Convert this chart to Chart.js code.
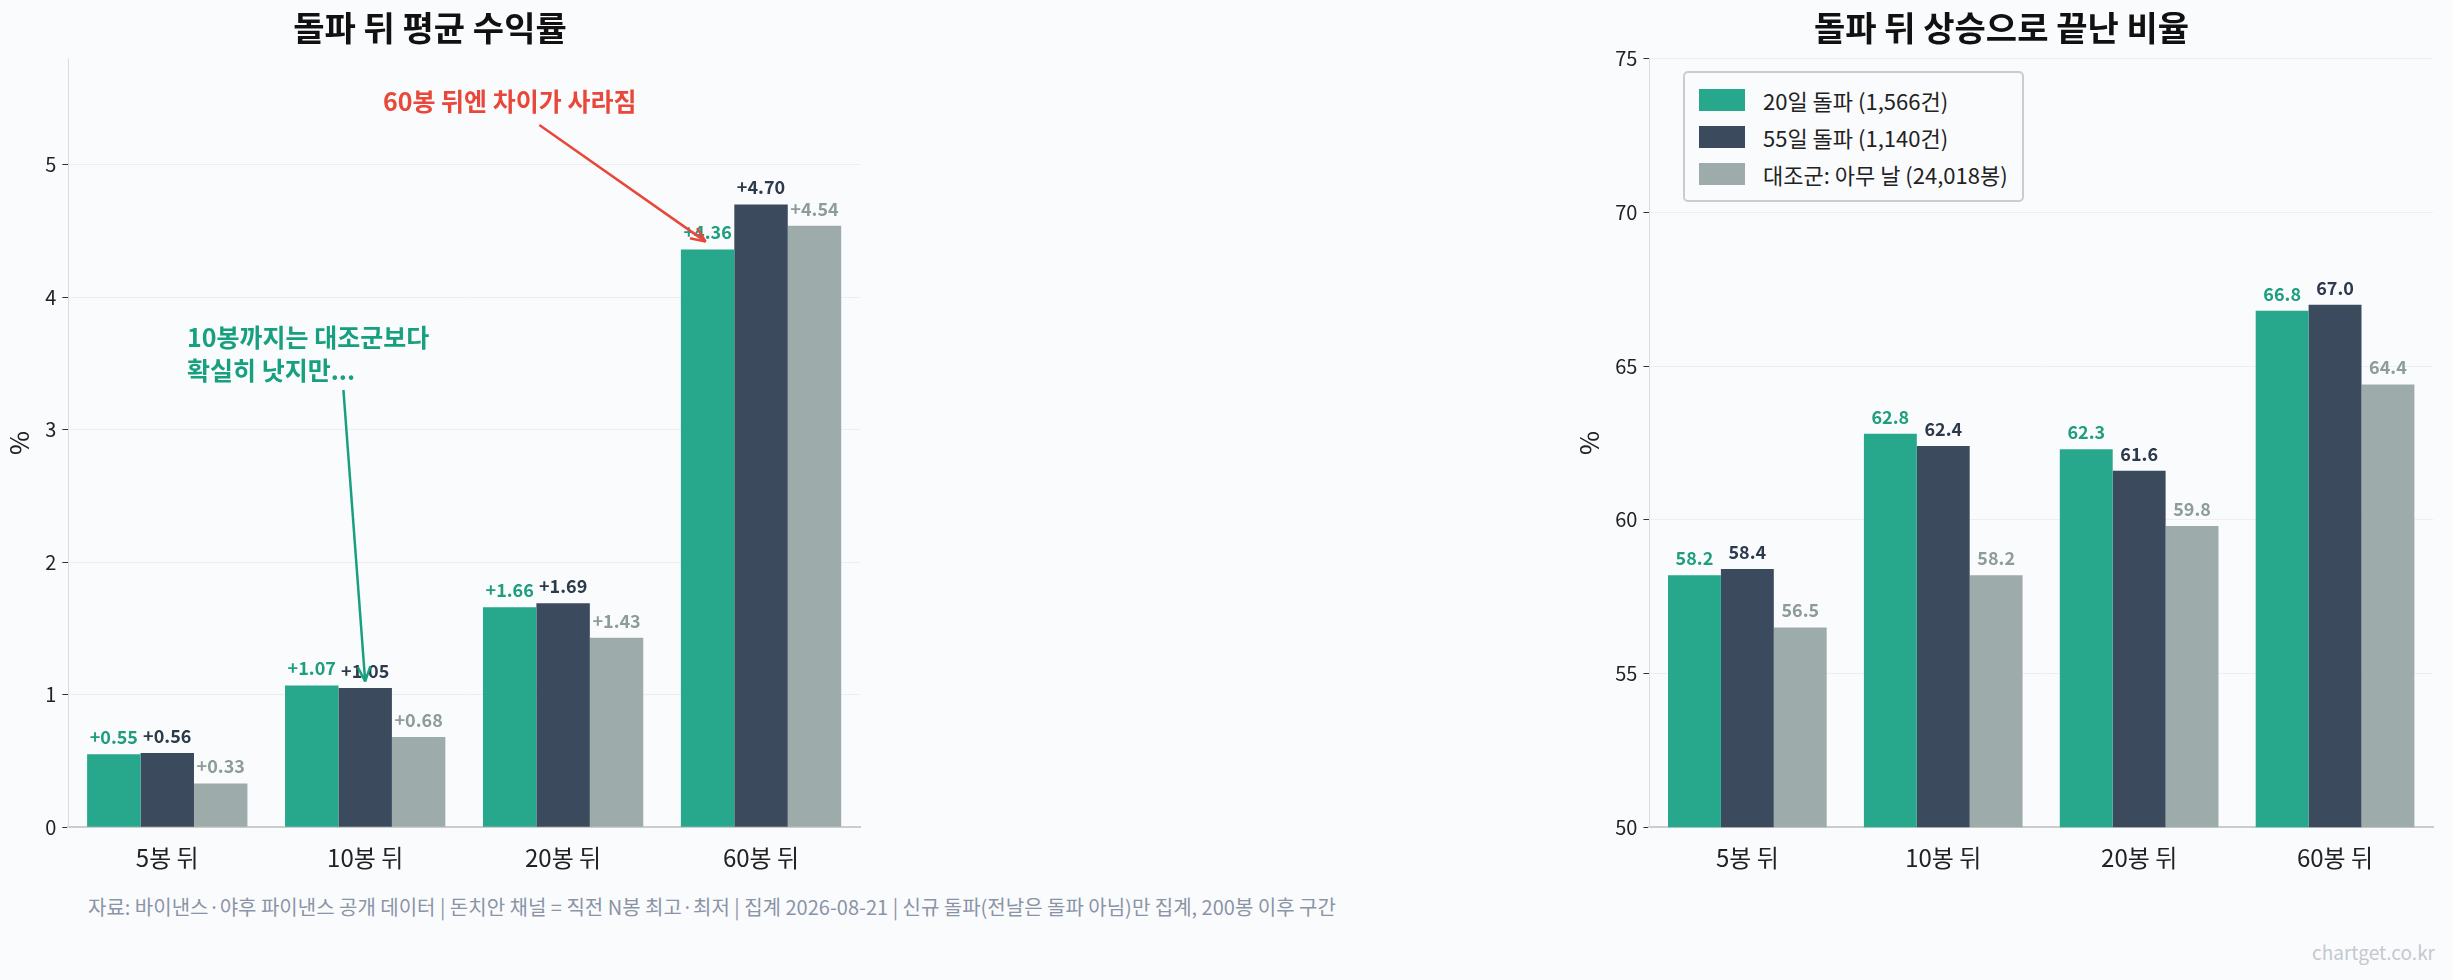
<!DOCTYPE html>
<html><head><meta charset="utf-8">
<script src="https://cdn.jsdelivr.net/npm/chart.js@4.4.1/dist/chart.umd.min.js"></script>
<style>
  body { margin:0; width:2453px; height:980px; background:#fafbfd; font-family:"Noto Sans CJK KR","Noto Sans",sans-serif; position:relative; overflow:hidden; }
  .box { position:absolute; }
  #legend { position:absolute; left:1683px; top:71px; border:2px solid #ccc; border-radius:5px; background:#fafbfd; padding:8px 14px; font-size:22px; color:#222; }
  #legend div { display:flex; align-items:center; height:37px; }
  #legend span { display:inline-block; width:46px; height:22px; margin-right:18px; }
  #foot { position:absolute; left:88px; top:892px; font-size:20px; color:#8a94a6; }
  #mark { position:absolute; right:18px; top:938px; font-size:19px; color:#c4c8d0; }
</style></head>
<body>
<div class="box" style="left:0;top:0;width:880px;height:880px"><canvas id="c1"></canvas></div>
<div class="box" style="left:1570px;top:0;width:883px;height:880px"><canvas id="c2"></canvas></div>
<div id="legend">
  <div><span style="background:#27a78c"></span>20일 돌파 (1,566건)</div>
  <div><span style="background:#3b4a5c"></span>55일 돌파 (1,140건)</div>
  <div><span style="background:#9eabab"></span>대조군: 아무 날 (24,018봉)</div>
</div>
<div id="foot">자료: 바이낸스·야후 파이낸스 공개 데이터 | 돈치안 채널 = 직전 N봉 최고·최저 | 집계 2026-08-21 | 신규 돌파(전날은 돌파 아님)만 집계, 200봉 이후 구간</div>
<div id="mark">chartget.co.kr</div>
<script>
const categories = ["5봉 뒤", "10봉 뒤", "20봉 뒤", "60봉 뒤"];
const seriesNames = ["20일 돌파 (1,566건)", "55일 돌파 (1,140건)", "대조군: 아무 날 (24,018봉)"];
const ret20 = [0.55, 1.07, 1.66, 4.36];
const ret55 = [0.56, 1.05, 1.69, 4.70];
const retCtl = [0.33, 0.68, 1.43, 4.54];
const up20 = [58.2, 62.8, 62.3, 66.8];
const up55 = [58.4, 62.4, 61.6, 67.0];
const upCtl = [56.5, 58.2, 59.8, 64.4];
const retTicks = [0, 1, 2, 3, 4, 5];
const upTicks = [50, 55, 60, 65, 70, 75];

const COLORS = ["#27a78c", "#3b4a5c", "#9eabab"];
const LABEL_COLORS = ["#1f9e7f", "#2c3a4c", "#8e9b9b"];
const FONT = '"Noto Sans CJK KR", "Noto Sans", sans-serif';

const barLabels = {
  id: "barLabels",
  afterDatasetsDraw(chart, args, opts) {
    const ctx = chart.ctx;
    ctx.save();
    ctx.font = `bold 18px ${FONT}`;
    ctx.textAlign = "center";
    ctx.textBaseline = "bottom";
    chart.data.datasets.forEach((ds, di) => {
      chart.getDatasetMeta(di).data.forEach((bar, i) => {
        ctx.fillStyle = LABEL_COLORS[di];
        ctx.fillText(opts.fmt(ds.data[i]), bar.x, bar.y - 8);
      });
    });
    ctx.restore();
  }
};

function arrow(ctx, x1, y1, x2, y2, color) {
  ctx.strokeStyle = color; ctx.fillStyle = color; ctx.lineWidth = 2.5;
  ctx.beginPath(); ctx.moveTo(x1, y1); ctx.lineTo(x2, y2); ctx.stroke();
  const a = Math.atan2(y2 - y1, x2 - x1), h = 16;
  ctx.beginPath();
  ctx.moveTo(x2, y2);
  ctx.lineTo(x2 - h * Math.cos(a - 0.4), y2 - h * Math.sin(a - 0.4));
  ctx.moveTo(x2, y2);
  ctx.lineTo(x2 - h * Math.cos(a + 0.4), y2 - h * Math.sin(a + 0.4));
  ctx.stroke();
}

const notes = {
  id: "notes",
  afterDatasetsDraw(chart) {
    const { ctx, scales: { x, y } } = chart;
    const px = v => x.getPixelForValue(0) + v * (x.getPixelForValue(1) - x.getPixelForValue(0));
    ctx.save();
    ctx.font = `bold 25px ${FONT}`;
    ctx.fillStyle = "#e8473a";
    ctx.textAlign = "center"; ctx.textBaseline = "middle";
    ctx.fillText("60봉 뒤엔 차이가 사라짐", px(1.73), y.getPixelForValue(5.48));
    arrow(ctx, px(1.88), y.getPixelForValue(5.3), px(2.72), y.getPixelForValue(4.42), "#e8473a");
    ctx.fillStyle = "#17a07f"; ctx.textAlign = "left";
    ctx.fillText("10봉까지는 대조군보다", px(0.1), y.getPixelForValue(3.7));
    ctx.fillText("확실히 낫지만...", px(0.1), y.getPixelForValue(3.45));
    arrow(ctx, px(0.89), y.getPixelForValue(3.3), px(1.0), y.getPixelForValue(1.1), "#17a07f");
    ctx.restore();
  }
};

function makeChart(id, data, title, min, max, ticks, fmt, extra) {
  return new Chart(document.getElementById(id), {
    type: "bar",
    data: {
      labels: categories,
      datasets: data.map((d, i) => ({ label: seriesNames[i], data: d, backgroundColor: COLORS[i],
        categoryPercentage: 0.81, barPercentage: 1 }))
    },
    options: {
      responsive: true, maintainAspectRatio: false, animation: false,
      layout: { padding: { top: 8, right: 20 } },
      plugins: {
        legend: { display: false },
        tooltip: { enabled: false },
        title: { display: true, text: title, color: "#111", font: { size: 34, family: FONT }, padding: { bottom: 10 } },
        barLabels: { fmt }
      },
      scales: {
        x: { grid: { display: false, drawTicks: true }, border: { color: "#ccc", width: 2 },
             ticks: { color: "#222", font: { size: 24, family: FONT }, padding: 8 } },
        y: { min, max, afterBuildTicks: ax => { ax.ticks = ticks.map(v => ({ value: v })); },
             grid: { color: "rgba(0,0,0,0.05)", tickColor: "#333", tickLength: 6 },
             border: { color: "#ddd", width: 1 },
             ticks: { color: "#222", font: { size: 20, family: FONT }, padding: 6 },
             title: { display: true, text: "%", color: "#222", font: { size: 26, family: FONT } } }
      }
    },
    plugins: [barLabels].concat(extra)
  });
}

makeChart("c1", [ret20, ret55, retCtl], "돌파 뒤 평균 수익률", 0, 5.8, retTicks,
  v => "+" + v.toFixed(2), [notes]);
makeChart("c2", [up20, up55, upCtl], "돌파 뒤 상승으로 끝난 비율", 50, 75, upTicks,
  v => v.toFixed(1), []);
</script>
</body></html>
